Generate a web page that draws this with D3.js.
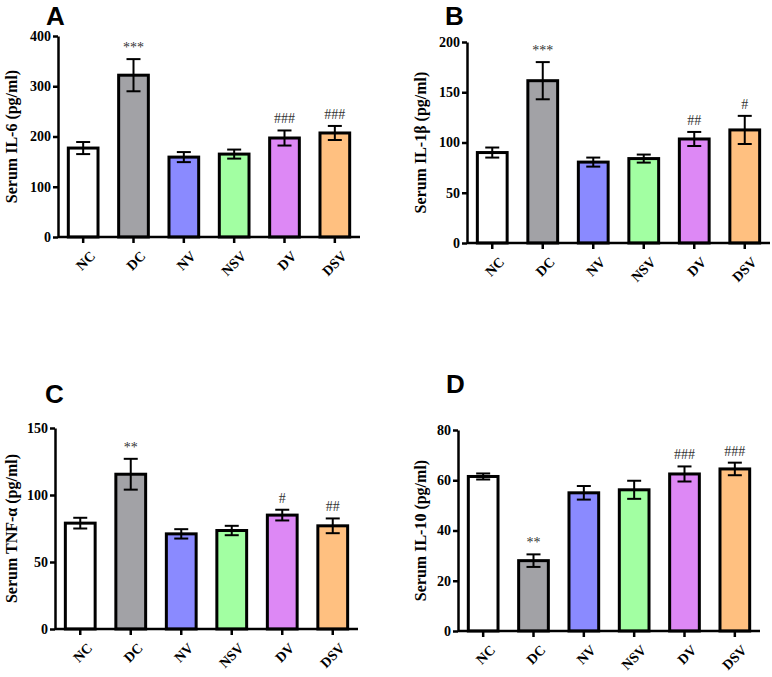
<!DOCTYPE html>
<html><head><meta charset="utf-8">
<script src="https://cdn.jsdelivr.net/npm/d3@7/dist/d3.min.js"></script>
<style>body{margin:0;background:#fff}svg{display:block}</style>
</head><body>
<svg id="c" width="772" height="677"></svg>
<script>
const categories = ["NC","DC","NV","NSV","DV","DSV"];
const colors = ["#ffffff","#a2a2a6","#8a8aff","#a2ffa2","#dd88f5","#ffc080"];

const il6Mean = [177, 322, 159, 165, 197, 207];
const il6Err  = [12, 32, 10, 9, 15, 14];
const il6Sig  = ["", "***", "", "", "###", "###"];

const il1bMean = [90, 161.5, 80.5, 84, 103.5, 112.5];
const il1bErr  = [5, 18.5, 4.5, 4, 7, 14];
const il1bSig  = ["", "***", "", "", "##", "#"];

const tnfMean = [79, 115.5, 71, 73.5, 85, 77];
const tnfErr  = [4, 11.5, 3.5, 3.5, 4, 5.5];
const tnfSig  = ["", "**", "", "", "#", "##"];

const il10Mean = [61.5, 28, 55, 56.2, 62.5, 64.5];
const il10Err  = [1.2, 2.5, 2.7, 3.6, 3, 2.5];
const il10Sig  = ["", "**", "", "", "###", "###"];

const yTicksA = [0,100,200,300,400];
const yTicksB = [0,50,100,150,200];
const yTicksC = [0,50,100,150];
const yTicksD = [0,20,40,60,80];

const panels = [
  {letter:"A", label:"Serum IL-6 (pg/ml)", mean:il6Mean, err:il6Err, sig:il6Sig, ticks:yTicksA,
   x0:58, x1:360, yTop:36, yBase:237, lx:46, ly:25, labX:12},
  {letter:"B", label:"Serum IL-1β (pg/ml)", mean:il1bMean, err:il1bErr, sig:il1bSig, ticks:yTicksB,
   x0:467, x1:770, yTop:42, yBase:243, lx:445, ly:25, labX:421},
  {letter:"C", label:"Serum TNF-α (pg/ml)", mean:tnfMean, err:tnfErr, sig:tnfSig, ticks:yTicksC,
   x0:55, x1:358, yTop:428, yBase:629, lx:45, ly:403, labX:12},
  {letter:"D", label:"Serum IL-10 (pg/ml)", mean:il10Mean, err:il10Err, sig:il10Sig, ticks:yTicksD,
   x0:458, x1:760, yTop:430, yBase:631, lx:446, ly:393, labX:421}
];

const svg = d3.select("#c");
const serif = "'Liberation Serif','Times New Roman',serif";

panels.forEach(p => {
  const g = svg.append("g");
  const x = d3.scaleBand().domain(categories).range([p.x0, p.x1]).paddingInner(0.41).paddingOuter(0.205);
  const y = d3.scaleLinear().domain([0, d3.max(p.ticks)]).range([p.yBase, p.yTop]);
  const cx = d => x(d) + x.bandwidth()/2;

  // bars
  g.selectAll("rect.bar").data(categories).join("rect")
    .attr("x", d => x(d)).attr("width", x.bandwidth())
    .attr("y", (d,i) => y(p.mean[i])).attr("height", (d,i) => y(0) - y(p.mean[i]))
    .attr("fill", (d,i) => colors[i]).attr("stroke", "#000").attr("stroke-width", 3);

  // error bars
  const eg = g.selectAll("g.err").data(categories).join("g");
  eg.append("line")
    .attr("x1", cx).attr("x2", cx)
    .attr("y1", (d,i) => y(p.mean[i] + p.err[i])).attr("y2", (d,i) => y(p.mean[i] - p.err[i]))
    .attr("stroke", "#000").attr("stroke-width", 2);
  [1,-1].forEach(s => {
    eg.append("line")
      .attr("x1", d => cx(d) - 7).attr("x2", d => cx(d) + 7)
      .attr("y1", (d,i) => y(p.mean[i] + s*p.err[i])).attr("y2", (d,i) => y(p.mean[i] + s*p.err[i]))
      .attr("stroke", "#000").attr("stroke-width", 2);
  });

  // significance marks
  g.selectAll("text.sig").data(categories).join("text")
    .attr("x", cx)
    .attr("y", (d,i) => y(p.mean[i] + p.err[i]) - 7)
    .attr("text-anchor", "middle")
    .attr("font-family", serif).attr("font-size", 14).attr("fill", "#333")
    .text((d,i) => p.sig[i]);

  // y axis
  const ya = g.append("g").attr("transform", `translate(${p.x0},0)`)
    .call(d3.axisLeft(y).tickValues(p.ticks).tickSize(5).tickSizeOuter(0).tickFormat(d3.format("d")));
  ya.select(".domain").attr("stroke-width", 2.5);
  ya.selectAll(".tick line").attr("stroke-width", 2.5);
  ya.selectAll("text").attr("font-family", serif).attr("font-weight", "bold").attr("font-size", 14).attr("fill","#000").attr("x", -7);

  // x axis
  const xa = g.append("g").attr("transform", `translate(0,${p.yBase})`)
    .call(d3.axisBottom(x).tickSize(6).tickSizeOuter(0).tickFormat(""));
  xa.select(".domain").attr("stroke-width", 2.5).attr("d", `M${p.x0},0H${p.x1}`);
  xa.selectAll(".tick line").attr("stroke-width", 2.5);

  // rotated x labels
  g.selectAll("text.xl").data(categories).join("text")
    .attr("class", "xl")
    .attr("transform", d => `translate(${cx(d) + 6},${p.yBase + 13}) rotate(-45)`)
    .attr("text-anchor", "end")
    .attr("dy", "0.7em")
    .attr("font-family", serif).attr("font-weight", "bold").attr("font-size", 14).attr("fill", "#000")
    .text(d => d);

  // y label
  g.append("text")
    .attr("transform", `translate(${p.labX + 5},${(p.yTop + p.yBase)/2}) rotate(-90)`)
    .attr("text-anchor", "middle")
    .attr("font-family", serif).attr("font-weight", "bold").attr("font-size", 16)
    .text(p.label);

  // panel letter
  g.append("text").attr("x", p.lx).attr("y", p.ly)
    .attr("font-family", "'Liberation Sans',Arial,sans-serif").attr("font-weight", "bold").attr("font-size", 26)
    .text(p.letter);
});
</script>
</body></html>
